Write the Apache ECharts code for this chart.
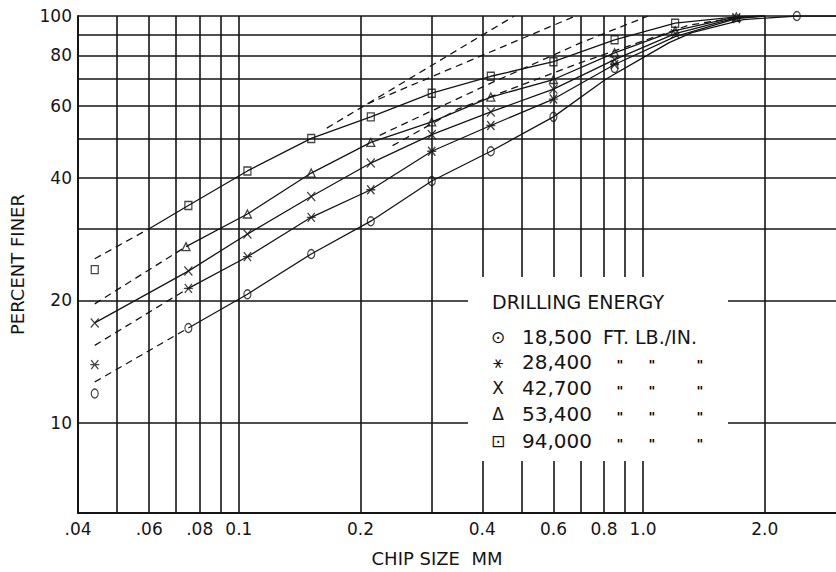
<!DOCTYPE html>
<html><head><meta charset="utf-8">
<script src="https://cdn.jsdelivr.net/npm/echarts@6/dist/echarts.min.js"></script>
<style>html,body{margin:0;padding:0;background:#fff}#c{width:836px;height:572px}</style>
</head><body><div id="c"></div>
<script>
// ---- tick labels ----
const xTickValues = [0.04, 0.06, 0.08, 0.1, 0.2, 0.4, 0.6, 0.8, 1.0, 2.0];
const xTickLabels = ['.04', '.06', '.08', '0.1', '0.2', '0.4', '0.6', '0.8', '1.0', '2.0'];
const yTickValues = [10, 20, 40, 60, 80, 100];
const yTickLabels = ['10', '20', '40', '60', '80', '100'];
const xGrid = [0.05, 0.06, 0.07, 0.08, 0.09, 0.1, 0.2, 0.3, 0.4, 0.5, 0.6, 0.7, 0.8, 0.9, 1.0, 2.0];
const yGrid = [10, 20, 30, 40, 50, 60, 70, 80, 90, 100];

// ---- legend ----
const energies = ['18,500', '28,400', '42,700', '53,400', '94,000'];
const legendSymbols = ['⊙', '⚹', 'X', 'Δ', '⊡'];

// ---- data: [chip size mm, percent finer] ----
// 18,500 ft.lb./in. (circle)
const s1Markers = [[0.044, 11.8], [0.075, 17.1], [0.105, 20.7], [0.151, 26.0], [0.212, 31.3], [0.30, 39.3], [0.42, 46.5], [0.6, 56.5], [0.85, 74.5], [2.4, 100]];
const s1Solid = [[0.075, 17.1], [0.105, 20.7], [0.151, 26.0], [0.212, 31.3], [0.30, 39.3], [0.42, 46.5], [0.6, 56.5], [0.81, 70], [1.0, 79], [1.16, 86], [1.32, 91], [1.77, 98], [2.4, 100], [3.0, 100]];
const s1Dashed = [[0.044, 12.6], [0.075, 17.1]];
// 28,400 (asterisk)
const s2Markers = [[0.044, 13.9], [0.075, 21.4], [0.105, 25.6], [0.151, 32.0], [0.212, 37.4], [0.30, 46.5], [0.42, 53.8], [0.6, 62.5], [0.85, 76], [1.7, 98.5]];
const s2Solid = [[0.075, 21.4], [0.105, 25.6], [0.151, 32.0], [0.212, 37.4], [0.30, 46.5], [0.42, 53.8], [0.6, 62.5], [0.85, 76], [1.2, 89], [1.7, 98.5], [2.0, 100]];
const s2Dashed = [[0.044, 15.5], [0.075, 21.4]];
// 42,700 (x)
const s3Markers = [[0.044, 17.6], [0.075, 23.6], [0.105, 29.1], [0.151, 36.0], [0.212, 43.5], [0.30, 51.1], [0.42, 58.1], [0.6, 66.1], [0.85, 78.1], [1.2, 90.5], [1.7, 99]];
const s3Solid = [[0.044, 17.6], [0.075, 23.6], [0.105, 29.1], [0.151, 36.0], [0.212, 43.5], [0.30, 51.1], [0.42, 58.1], [0.6, 66.1], [0.85, 78.1], [1.2, 90.5], [1.7, 99], [2.0, 100]];
// 53,400 (triangle)
const s4Markers = [[0.074, 27.1], [0.105, 32.6], [0.151, 41.1], [0.212, 48.9], [0.30, 54.9], [0.42, 63.2], [0.6, 69.8], [0.85, 81.2], [1.2, 92], [1.7, 99.5]];
const s4Solid = [[0.074, 27.1], [0.105, 32.6], [0.151, 41.1], [0.212, 48.9], [0.30, 54.9], [0.42, 63.2], [0.6, 69.8], [0.85, 81.2], [1.2, 92], [1.7, 99.5], [2.0, 100]];
const s4Dashed = [[0.044, 19.6], [0.074, 27.1]];
// 94,000 (square)
const s5Markers = [[0.044, 23.8], [0.075, 34.2], [0.105, 41.6], [0.151, 50.0], [0.212, 56.5], [0.30, 64.6], [0.42, 71.1], [0.6, 77.2], [0.85, 87.4], [1.2, 96.0]];
const s5Solid = [[0.06, 30.0], [0.075, 34.2], [0.105, 41.6], [0.151, 50.0], [0.212, 56.5], [0.30, 64.6], [0.42, 71.1], [0.6, 77.2], [0.85, 87.4], [1.2, 96.0], [1.7, 99.5], [2.0, 100]];
const s5Dashed = [[0.044, 25.3], [0.06, 30.0]];
// upper dashed extrapolations
const upper1 = [[0.165, 53], [0.48, 100]];
const upper2 = [[0.208, 60.8], [0.68, 100]];
const upper3 = [[0.223, 50.9], [0.415, 68], [0.70, 85.9], [1.03, 100]];
const upper4 = [[0.24, 48], [0.349, 59.1], [0.70, 76.8], [1.3, 95], [1.7, 99]];

const INK = '#151515';
const FONT = 'DejaVu Sans';

function lookup(vals, labels, v) {
  for (let i = 0; i < vals.length; i++) if (Math.abs(vals[i] - v) / vals[i] < 1e-6) return labels[i];
  return '';
}

const symX = 'path://M0,0L10,10M10,0L0,10';
const symStar = 'path://M1,0L9,10M9,0L1,10M0,5L10,5';

function lineSeries(data, dashed) {
  return {
    type: 'line', data: data, showSymbol: false, symbol: 'none', silent: true, z: 3,
    lineStyle: { color: INK, width: 1.3, type: dashed ? [7, 5] : 'solid' }
  };
}
function markerSeries(data, symbol, size) {
  return {
    type: 'scatter', data: data, symbol: symbol, symbolSize: size, silent: true, z: 4,
    itemStyle: { color: 'none', borderColor: INK, borderWidth: 1.3 }
  };
}

const series = [
  {
    type: 'line', data: [], silent: true, z: 1,
    markLine: {
      silent: true, symbol: 'none', animation: false,
      label: { show: false },
      lineStyle: { color: INK, width: 1.6, type: 'solid' },
      data: xGrid.map(v => ({ xAxis: v })).concat(yGrid.map(v => ({ yAxis: v })))
    }
  },
  lineSeries(s1Solid, false), lineSeries(s1Dashed, true), markerSeries(s1Markers, 'circle', [7, 9]),
  lineSeries(s2Solid, false), lineSeries(s2Dashed, true), markerSeries(s2Markers, symStar, [9, 9]),
  lineSeries(s3Solid, false), markerSeries(s3Markers, symX, [8, 9]),
  lineSeries(s4Solid, false), lineSeries(s4Dashed, true), markerSeries(s4Markers, 'triangle', [8, 8]),
  lineSeries(s5Solid, false), lineSeries(s5Dashed, true), markerSeries(s5Markers, 'rect', [7, 8]),
  lineSeries(upper1, true), lineSeries(upper2, true), lineSeries(upper3, true), lineSeries(upper4, true)
];

// legend block as graphic text
const legendTop = 302, rowYs = [337, 362, 388, 414, 441];
const graphics = [
  { type: 'rect', shape: { x: 468, y: 277, width: 260, height: 184 }, style: { fill: '#fff' }, z: 100 },
  { type: 'text', x: 492, y: legendTop, z: 101, style: { text: 'DRILLING ENERGY', font: '19px ' + FONT, fill: INK, verticalAlign: 'middle' } }
];
energies.forEach((e, i) => {
  graphics.push({ type: 'text', x: 498, y: rowYs[i], z: 101, style: { text: legendSymbols[i], font: '17px ' + FONT, fill: INK, align: 'center', verticalAlign: 'middle' } });
  graphics.push({ type: 'text', x: 522, y: rowYs[i], z: 101, style: { text: e, font: '20px ' + FONT, fill: INK, verticalAlign: 'middle' } });
  if (i === 0) {
    graphics.push({ type: 'text', x: 603, y: rowYs[i], z: 101, style: { text: 'FT. LB./IN.', font: '19px ' + FONT, fill: INK, verticalAlign: 'middle' } });
  } else {
    [620, 652, 700].forEach(x => graphics.push({ type: 'text', x: x, y: rowYs[i] + 2, z: 101, style: { text: '"', font: 'bold 13px ' + FONT, fill: '#000', align: 'center', verticalAlign: 'middle' } }));
  }
});

const chart = echarts.init(document.getElementById('c'), null, { renderer: 'svg' });
chart.setOption({
  animation: false,
  backgroundColor: '#fff',
  grid: { left: 70, right: 0, top: 16, bottom: 51 },
  xAxis: {
    type: 'log', logBase: 10, min: 0.04, max: 3,
    name: 'CHIP SIZE  MM', nameLocation: 'middle', nameGap: 36,
    nameTextStyle: { color: INK, fontFamily: FONT, fontSize: 18, padding: [0, 40, 0, 0] },
    axisLine: { show: true, lineStyle: { color: INK, width: 2 } },
    axisTick: { show: false },
    splitLine: { show: false }, minorSplitLine: { show: false },
    axisLabel: {
      customValues: xTickValues, color: INK, fontFamily: FONT, fontSize: 17, margin: 7,
      formatter: v => lookup(xTickValues, xTickLabels, v)
    }
  },
  yAxis: {
    type: 'log', logBase: 10, min: 6, max: 100,
    name: 'PERCENT FINER', nameLocation: 'middle', nameGap: 52, nameRotate: 90,
    nameTextStyle: { color: INK, fontFamily: FONT, fontSize: 18 },
    axisLine: { show: true, lineStyle: { color: INK, width: 2 } },
    axisTick: { show: false },
    splitLine: { show: false },
    axisLabel: {
      customValues: yTickValues, color: INK, fontFamily: FONT, fontSize: 17, margin: 6,
      formatter: v => lookup(yTickValues, yTickLabels, v)
    }
  },
  series: series,
  graphic: graphics
});
</script></body></html>
